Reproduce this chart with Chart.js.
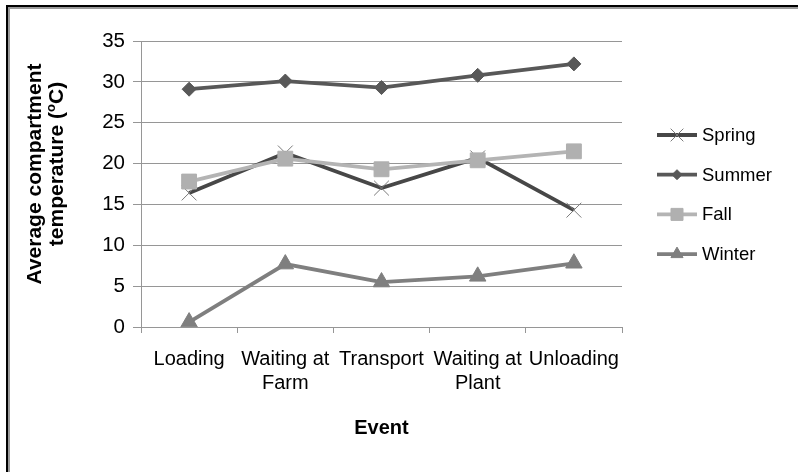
<!DOCTYPE html>
<html>
<head>
<meta charset="utf-8">
<script src="https://cdn.jsdelivr.net/npm/chart.js@4/dist/chart.umd.min.js"></script>
<style>
  html, body { margin: 0; padding: 0; background: #fff; }
  #wrap { position: relative; width: 798px; height: 472px; overflow: hidden; }
  #frame {
    position: absolute; left: 6px; top: 5px; width: 820px; height: 500px;
    border-left: 2px solid #000; border-top: 2px solid #000;
    box-shadow: inset 2px 2px 0 #9a9a9a;
  }
  #chart { position: absolute; left: 0; top: 0; }
</style>
</head>
<body>
<div id="wrap">
  <div id="frame"></div>
  <canvas id="chart" width="798" height="472"></canvas>
</div>
<script>
// Compartment temperatures per event, by season
const events = ['Loading', ['Waiting at', 'Farm'], 'Transport', ['Waiting at', 'Plant'], 'Unloading'];
const seasons = ['Spring', 'Summer', 'Fall', 'Winter'];
const spring = [16.4, 21.3, 17.0, 20.7, 14.3];
const summer = [29.1, 30.1, 29.3, 30.8, 32.2];
const fall   = [17.8, 20.6, 19.3, 20.4, 21.5];
const winter = [0.6, 7.7, 5.5, 6.2, 7.8];
const yTicks = [0, 5, 10, 15, 20, 25, 30, 35];

const FONT = '"Liberation Sans", Arial, sans-serif';
const GRID = '#969696';

const datasets = [
  { label: seasons[0], data: spring, borderColor: '#474747', backgroundColor: '#474747',
    pointStyle: 'crossRot', pointRadius: 10.5, pointBorderColor: '#7a7a7a', pointBorderWidth: 1,
    legendRadius: 9, order: 4 },
  { label: seasons[1], data: summer, borderColor: '#585858', backgroundColor: '#585858',
    pointStyle: 'rectRot', pointRadius: 7, pointBorderColor: '#585858', pointBorderWidth: 1,
    legendRadius: 5, order: 3 },
  { label: seasons[2], data: fall, borderColor: '#b4b4b4', backgroundColor: '#b0b0b0',
    pointStyle: 'rect', pointRadius: 10.5, pointBorderColor: '#b0b0b0', pointBorderWidth: 1,
    legendRadius: 8.5, order: 2 },
  { label: seasons[3], data: winter, borderColor: '#7f7f7f', backgroundColor: '#7f7f7f',
    pointStyle: 'triangle', pointRadius: 9.5, pointBorderColor: '#7f7f7f', pointBorderWidth: 1,
    legendRadius: 7, order: 1 }
].map(d => Object.assign({ borderWidth: 3.8, tension: 0, fill: false }, d));

// Legend on the right: line sample with marker, then the series name
const seriesLegend = {
  id: 'seriesLegend',
  afterDraw(chart) {
    const ctx = chart.ctx;
    const x0 = 657, x1 = 697, tx = 702, y0 = 135, step = 39.7;
    chart.data.datasets.forEach((ds, i) => {
      const y = y0 + i * step;
      ctx.save();
      ctx.strokeStyle = ds.borderColor;
      ctx.lineWidth = ds.borderWidth;
      ctx.beginPath();
      ctx.moveTo(x0, y);
      ctx.lineTo(x1, y);
      ctx.stroke();
      ctx.fillStyle = ds.backgroundColor;
      ctx.strokeStyle = ds.pointBorderColor;
      ctx.lineWidth = ds.pointBorderWidth;
      Chart.helpers.drawPoint(ctx, { pointStyle: ds.pointStyle, radius: ds.legendRadius, rotation: 0, borderWidth: ds.pointBorderWidth }, (x0 + x1) / 2, y);
      ctx.fillStyle = '#000';
      ctx.font = '18.5px ' + FONT;
      ctx.textAlign = 'left';
      ctx.textBaseline = 'middle';
      ctx.fillText(ds.label, tx, y + 1);
      ctx.restore();
    });
  }
};

// Rotated two-line value-axis title with a superscript "o" in the unit
const yTitle = {
  id: 'yTitle',
  afterDraw(chart) {
    const ctx = chart.ctx;
    const big = 'bold 21px ' + FONT, small = 'bold 13px ' + FONT;
    ctx.save();
    ctx.fillStyle = '#000';
    ctx.textBaseline = 'alphabetic';
    // first line
    ctx.save();
    ctx.translate(41, 174);
    ctx.rotate(-Math.PI / 2);
    ctx.font = big;
    ctx.textAlign = 'center';
    ctx.fillText('Average compartment', 0, 0);
    ctx.restore();
    // second line, built from parts
    const parts = [['temperature (', big, 0], ['o', small, -8], ['C)', big, 0]];
    let total = 0;
    parts.forEach(p => { ctx.font = p[1]; total += ctx.measureText(p[0]).width; });
    ctx.save();
    ctx.translate(63, 164);
    ctx.rotate(-Math.PI / 2);
    ctx.textAlign = 'left';
    let x = -total / 2;
    parts.forEach(p => {
      ctx.font = p[1];
      ctx.fillText(p[0], x, p[2]);
      x += ctx.measureText(p[0]).width;
    });
    ctx.restore();
    ctx.restore();
  }
};

new Chart(document.getElementById('chart'), {
  type: 'line',
  data: { labels: events, datasets },
  options: {
    responsive: false,
    animation: false,
    events: [],
    layout: { padding: { left: 0, top: 41, right: 176, bottom: 0 } },
    plugins: { legend: { display: false }, tooltip: { enabled: false } },
    scales: {
      x: {
        offset: true,
        grid: { offset: true, drawOnChartArea: false, drawTicks: true, tickLength: 6, color: GRID },
        border: { color: GRID, width: 1 },
        ticks: { color: '#000', font: { family: FONT, size: 20, lineHeight: 1.2 }, padding: 14, maxRotation: 0, autoSkip: false },
        title: { display: true, text: 'Event', color: '#000', font: { family: FONT, size: 20, weight: 'bold', lineHeight: 1.2 }, padding: { top: 0, bottom: 32 } },
        afterFit(scale) { scale.height = 145; }
      },
      y: {
        min: 0, max: 35,
        afterBuildTicks(scale) { scale.ticks = yTicks.map(v => ({ value: v })); },
        grid: { color: GRID, tickLength: 8, drawTicks: true },
        border: { color: GRID, width: 1 },
        ticks: { color: '#000', font: { family: FONT, size: 20.5 }, padding: 8 },
        afterFit(scale) { scale.width = 141; }
      }
    }
  },
  plugins: [seriesLegend, yTitle]
});
</script>
</body>
</html>
